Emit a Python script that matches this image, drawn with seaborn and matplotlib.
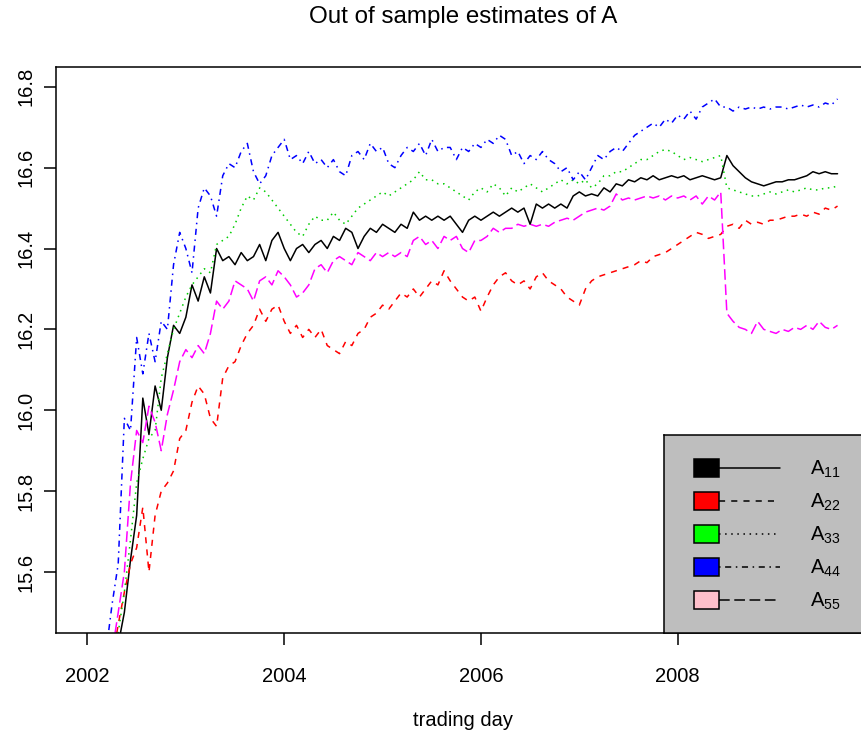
import numpy as np
import pandas as pd
import matplotlib
matplotlib.use("Agg")
import matplotlib.pyplot as plt
import seaborn as sns
from matplotlib.patches import Rectangle
from matplotlib.lines import Line2D

# -----------------------------
# Data
# -----------------------------
# trading days as decimal years, one every 1/16 year
trading_day = 2002 + np.arange(3, 123) / 16

a11 = [15.30, 15.36, 15.42, 15.50, 15.63, 15.74, 16.03, 15.94, 16.06, 16.00,
       16.13, 16.21, 16.19, 16.23, 16.31, 16.27, 16.33, 16.29, 16.40, 16.37,
       16.38, 16.36, 16.39, 16.37, 16.38, 16.41, 16.37, 16.42, 16.44, 16.40,
       16.37, 16.40, 16.41, 16.39, 16.41, 16.42, 16.40, 16.43, 16.42, 16.45,
       16.44, 16.40, 16.43, 16.45, 16.44, 16.46, 16.45, 16.44, 16.46, 16.45,
       16.49, 16.47, 16.48, 16.47, 16.48, 16.47, 16.48, 16.46, 16.44, 16.47,
       16.48, 16.47, 16.48, 16.49, 16.48, 16.49, 16.50, 16.49, 16.50, 16.46,
       16.51, 16.50, 16.51, 16.50, 16.51, 16.50, 16.53, 16.54, 16.53, 16.535,
       16.53, 16.55, 16.54, 16.56, 16.555, 16.57, 16.565, 16.575, 16.57, 16.58,
       16.57, 16.575, 16.58, 16.575, 16.58, 16.57, 16.575, 16.58, 16.575, 16.57,
       16.575, 16.63, 16.605, 16.59, 16.575, 16.565, 16.56, 16.555, 16.56, 16.565,
       16.565, 16.57, 16.57, 16.575, 16.58, 16.59, 16.585, 16.59, 16.585, 16.585]

a22 = [15.30, 15.38, 15.47, 15.55, 15.62, 15.66, 15.76, 15.60, 15.74, 15.80,
       15.82, 15.85, 15.93, 15.95, 16.02, 16.06, 16.04, 15.98, 15.96, 16.08,
       16.11, 16.12, 16.16, 16.19, 16.21, 16.25, 16.22, 16.25, 16.26, 16.22,
       16.19, 16.21, 16.18, 16.20, 16.18, 16.20, 16.16, 16.15, 16.14, 16.17,
       16.16, 16.19, 16.20, 16.23, 16.24, 16.26, 16.25, 16.27, 16.29, 16.28,
       16.30, 16.28, 16.30, 16.32, 16.31, 16.345, 16.32, 16.30, 16.28, 16.27,
       16.28, 16.245, 16.28, 16.31, 16.33, 16.34, 16.32, 16.31, 16.32, 16.30,
       16.33, 16.34, 16.32, 16.31, 16.30, 16.28, 16.27, 16.26, 16.30, 16.32,
       16.33, 16.335, 16.34, 16.345, 16.35, 16.355, 16.36, 16.37, 16.365, 16.38,
       16.385, 16.39, 16.40, 16.41, 16.42, 16.43, 16.44, 16.435, 16.425, 16.43,
       16.435, 16.455, 16.46, 16.45, 16.47, 16.46, 16.465, 16.46, 16.47, 16.47,
       16.475, 16.48, 16.48, 16.485, 16.48, 16.49, 16.485, 16.50, 16.495, 16.505]

a33 = [15.30, 15.38, 15.45, 15.55, 15.68, 15.82, 15.88, 15.93, 15.95, 16.08,
       16.14, 16.20, 16.24, 16.28, 16.31, 16.33, 16.35, 16.34, 16.41, 16.42,
       16.43, 16.46, 16.50, 16.53, 16.52, 16.55, 16.54, 16.52, 16.50, 16.48,
       16.46, 16.44, 16.43, 16.46, 16.48, 16.47, 16.47, 16.49, 16.47, 16.46,
       16.48, 16.50, 16.51, 16.52, 16.53, 16.54, 16.53, 16.54, 16.55, 16.56,
       16.57, 16.59, 16.57, 16.57, 16.56, 16.56, 16.55, 16.54, 16.53, 16.52,
       16.54, 16.55, 16.54, 16.56, 16.55, 16.53, 16.55, 16.54, 16.55, 16.56,
       16.55, 16.54, 16.55, 16.56, 16.57, 16.56, 16.57, 16.56, 16.57, 16.55,
       16.56, 16.58, 16.58, 16.59, 16.59, 16.60, 16.61, 16.62, 16.62, 16.63,
       16.64, 16.645, 16.64, 16.63, 16.62, 16.625, 16.62, 16.615, 16.62, 16.625,
       16.63, 16.55, 16.545, 16.54, 16.535, 16.53, 16.53, 16.535, 16.54, 16.535,
       16.54, 16.545, 16.54, 16.545, 16.55, 16.545, 16.545, 16.55, 16.55, 16.555]

a44 = [15.40, 15.52, 15.62, 15.98, 15.95, 16.18, 16.09, 16.19, 16.12, 16.22,
       16.20, 16.36, 16.44, 16.40, 16.34, 16.50, 16.55, 16.53, 16.48, 16.58,
       16.61, 16.60, 16.64, 16.66, 16.59, 16.56, 16.58, 16.63, 16.65, 16.67,
       16.62, 16.63, 16.61, 16.64, 16.61, 16.62, 16.60, 16.62, 16.59, 16.58,
       16.63, 16.64, 16.62, 16.66, 16.64, 16.65, 16.61, 16.60, 16.63, 16.65,
       16.64, 16.66, 16.63, 16.67, 16.64, 16.65, 16.65, 16.62, 16.65, 16.64,
       16.66, 16.65, 16.67, 16.66, 16.68, 16.67, 16.63, 16.64, 16.61, 16.63,
       16.62, 16.64, 16.62, 16.61, 16.59, 16.60, 16.57, 16.59, 16.57, 16.60,
       16.63, 16.62, 16.64, 16.65, 16.64, 16.66, 16.68, 16.69, 16.70, 16.71,
       16.70, 16.72, 16.71, 16.73, 16.72, 16.74, 16.72, 16.75, 16.76, 16.77,
       16.75, 16.75, 16.74, 16.75, 16.745, 16.75, 16.745, 16.75, 16.745, 16.75,
       16.75, 16.745, 16.75, 16.755, 16.75, 16.755, 16.75, 16.76, 16.755, 16.77]

a55 = [15.30, 15.40, 15.50, 15.60, 15.82, 15.95, 15.92, 16.01, 15.97, 15.90,
       15.99, 16.05, 16.12, 16.15, 16.13, 16.16, 16.14, 16.19, 16.27, 16.25,
       16.27, 16.32, 16.31, 16.30, 16.27, 16.32, 16.33, 16.31, 16.345, 16.33,
       16.31, 16.28, 16.29, 16.31, 16.35, 16.36, 16.34, 16.37, 16.38, 16.37,
       16.36, 16.39, 16.38, 16.37, 16.39, 16.38, 16.39, 16.38, 16.39, 16.38,
       16.42, 16.43, 16.41, 16.42, 16.40, 16.43, 16.42, 16.43, 16.40, 16.39,
       16.42, 16.42, 16.43, 16.45, 16.44, 16.45, 16.45, 16.46, 16.455, 16.46,
       16.455, 16.46, 16.455, 16.465, 16.47, 16.475, 16.47, 16.48, 16.49, 16.495,
       16.50, 16.495, 16.505, 16.535, 16.52, 16.525, 16.52, 16.525, 16.53, 16.525,
       16.53, 16.52, 16.53, 16.525, 16.53, 16.52, 16.53, 16.51, 16.53, 16.52,
       16.54, 16.24, 16.22, 16.205, 16.20, 16.19, 16.22, 16.20, 16.195, 16.19,
       16.20, 16.195, 16.205, 16.20, 16.21, 16.20, 16.22, 16.205, 16.20, 16.21]

series_names = ["A11", "A22", "A33", "A44", "A55"]
series_values = [a11, a22, a33, a44, a55]
x_ticks = [2002, 2004, 2006, 2008]
y_ticks = [15.6, 15.8, 16.0, 16.2, 16.4, 16.6, 16.8]

# -----------------------------
# Styling
# -----------------------------
line_colors = {"A11": "black", "A22": "#FF0000", "A33": "#00CD00",
               "A44": "#0000FF", "A55": "#FF00FF"}
line_dashes = {"A11": "", "A22": (4, 4), "A33": (1, 3),
               "A44": (1, 3, 4, 3), "A55": (7, 3)}
legend_fills = ["black", "#FF0000", "#00FF00", "#0000FF", "#FFC0CB"]
legend_labels = [r"$\mathregular{A_{11}}$", r"$\mathregular{A_{22}}$",
                 r"$\mathregular{A_{33}}$", r"$\mathregular{A_{44}}$",
                 r"$\mathregular{A_{55}}$"]

sns.set_style("white")
plt.rcParams["font.family"] = ["Liberation Sans", "DejaVu Sans"]
plt.rcParams["mathtext.fontset"] = "custom"
plt.rcParams["mathtext.rm"] = "Liberation Sans"
plt.rcParams["text.color"] = "black"
plt.rcParams["axes.labelcolor"] = "black"

LW = 1.1
FS = 14.5
W, H = 862, 737

df = pd.DataFrame({
    "day": np.tile(trading_day, len(series_names)),
    "value": np.concatenate(series_values),
    "series": np.repeat(series_names, len(trading_day)),
})

fig = plt.figure(figsize=(W / 100, H / 100), dpi=100)
ax = fig.add_axes([56 / W, (H - 633) / H, (870 - 56) / W, (633 - 67) / H])

sns.lineplot(data=df, x="day", y="value", hue="series", style="series",
             palette=line_colors, dashes=line_dashes, estimator=None,
             linewidth=LW, legend=False, ax=ax)

ax.set_xlim(2001.68, 2009.955)
ax.set_ylim(15.449, 16.849)
ax.set_xticks(x_ticks)
ax.set_yticks(y_ticks)
ax.set_xticklabels([str(t) for t in x_ticks])
ax.set_yticklabels([f"{t:.1f}" for t in y_ticks])
ax.tick_params(axis="both", direction="out", length=8.6, width=LW,
               color="black", labelsize=FS, labelcolor="black",
               bottom=True, left=True)
ax.tick_params(axis="x", pad=16)
ax.tick_params(axis="y", pad=6)
for lab in ax.get_yticklabels():
    lab.set_rotation(90)
    lab.set_va("center")
for sp in ax.spines.values():
    sp.set_color("black")
    sp.set_linewidth(LW)

ax.set_ylabel("")
ax.set_xlabel("trading day", fontsize=FS, color="black")
ax.xaxis.set_label_coords(0.5, (633 - 720) / (633 - 67))
ax.xaxis.label.set_va("center")

fig.text(463 / W, 1 - 17 / H, "Out of sample estimates of A",
         ha="center", va="center", fontsize=FS * 1.2, color="black")

# -----------------------------
# Legend box (bottom right, gray fill)
# -----------------------------
lax = fig.add_axes([664 / W, (H - 633) / H, (870 - 664) / W, (633 - 435) / H])
lax.set_xlim(664, 870)
lax.set_ylim(633, 435)
lax.set_facecolor("#BEBEBE")
lax.set_xticks([])
lax.set_yticks([])
for sp in lax.spines.values():
    sp.set_color("black")
    sp.set_linewidth(LW)

for k, name in enumerate(series_names):
    yc = 468 + 33 * k
    lax.add_patch(Rectangle((694, yc - 8.7), 25, 17.4, facecolor=legend_fills[k],
                            edgecolor="black", linewidth=LW))
    ln = Line2D([719, 780], [yc, yc], color="black", linewidth=LW)
    if line_dashes[name]:
        ln.set_dashes(line_dashes[name])
    lax.add_line(ln)
    lax.text(810, yc + 7, legend_labels[k], va="baseline", ha="left",
             fontsize=FS, color="black")

fig.savefig("out.png", dpi=100)
